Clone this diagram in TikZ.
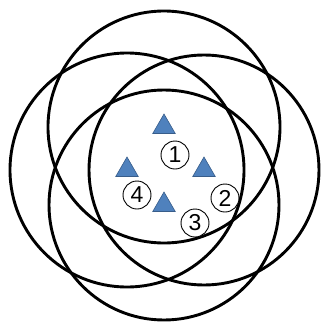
\documentclass[tikz,border=0pt]{standalone}
\usepackage{fontspec}
\setsansfont{Liberation Sans}
\usetikzlibrary{shapes.geometric, positioning}
\definecolor{MarkBlue}{HTML}{4F81BD}
\definecolor{MarkEdge}{HTML}{385D8A}
\tikzset{
    ring/.style={
        draw=black,
        line width=2.9pt
    },
    marker/.style={
        regular polygon,
        regular polygon sides=3,
        fill=MarkBlue,
        draw=MarkEdge,
        line width=0.6pt,
        minimum size=26pt,
        inner sep=0pt
    },
    numlabel/.style={
        circle,
        draw=black,
        line width=0.9pt,
        fill=white,
        minimum size=28pt,
        inner sep=0pt,
        font=\fontsize{23}{23}\selectfont\sffamily
    }
}

\begin{document}
\begin{tikzpicture}[x=1pt, y=-1pt]
        \useasboundingbox (0,0) rectangle (322,325);

        % Circle centres
        \coordinate (cTop) at (164,127);
        \coordinate (cLeft) at (127,170);
        \coordinate (cRight) at (204,170);
        \coordinate (cBottom) at (164,205);

        % Circles
        \draw[ring] (cTop) circle[radius=116];
        \draw[ring] (cLeft) circle[radius=117];
        \draw[ring] (cRight) circle[radius=115];
        \draw[ring] (cBottom) circle[radius=115];

        % Triangles
        \node[marker] (tri1) at (cTop) {};
        \node[marker] (tri2) at (cRight) {};
        \node[marker] (tri3) at (cBottom) {};
        \node[marker] (tri4) at (cLeft) {};

        % Numbers
        \node[numlabel] (lab1) at (175,155) {1};
        \node[numlabel] (lab2) at (225,198) {2};
        \node[numlabel] (lab3) at (195,223) {3};
        \node[numlabel] (lab4) at (137,195) {4};
    \end{tikzpicture}
\end{document}
